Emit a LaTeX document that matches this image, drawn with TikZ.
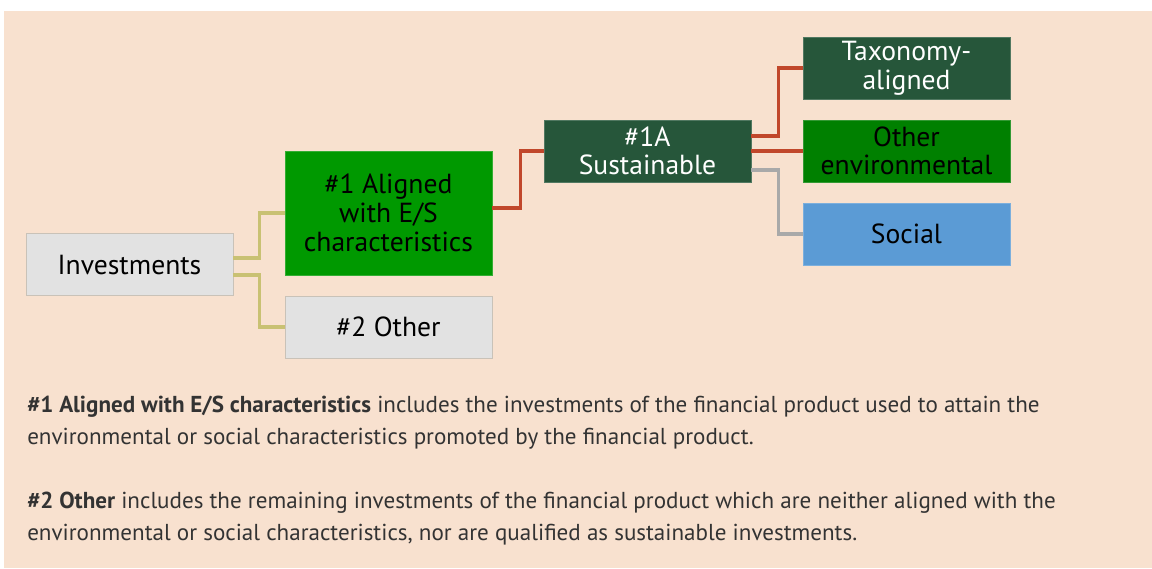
\documentclass[tikz,border=0pt]{standalone}
\usepackage{fontspec}
\setmainfont{PT Sans}
\usetikzlibrary{positioning}
\definecolor{panel}{HTML}{F8E1CF}
\definecolor{greyfill}{HTML}{E2E2E2}
\definecolor{greyedge}{HTML}{C9C2B8}
\definecolor{brightgreen}{HTML}{009900}
\definecolor{darkgreen}{HTML}{26563A}
\definecolor{envgreen}{HTML}{008000}
\definecolor{socblue}{HTML}{5B9BD5}
\definecolor{redlink}{HTML}{C1472B}
\definecolor{olivelink}{HTML}{C9C173}
\definecolor{greylink}{HTML}{A9A9A9}
\definecolor{legendtext}{HTML}{333333}

\begin{document}
\begin{tikzpicture}[x=0.75pt,y=-0.75pt,
		box/.style={minimum width=155.25pt, minimum height=46.5pt, inner sep=0pt,
			align=center, line width=0.6pt, font=\fontsize{20.7}{21.5}\selectfont},
		greybox/.style={box, fill=greyfill, draw=greyedge},
		greenbox/.style={box, fill=brightgreen, draw=brightgreen!80!white},
		darkbox/.style={box, fill=darkgreen, draw=darkgreen!80!white, text=white},
		envbox/.style={box, fill=envgreen, draw=envgreen!80!white},
		socbox/.style={box, fill=socblue, draw=socblue!80!white},
		link/.style={line width=2.6pt},
		legend/.style={anchor=base west, inner sep=0pt, text=legendtext, font=\fontsize{17.3}{24}\selectfont}]
				% Panel
				\useasboundingbox (0,0) rectangle (1152,568);
				\fill[panel] (4,11) rectangle (1152,568);
				
				% Boxes
				\node[greybox] (inv) at (129.5,264.5) {Investments};
				\node[greenbox, minimum height=93pt] (al) at (388.5,213) {\#1 Aligned\\with E/S\\characteristics};
				\node[greybox] (oth) at (388.5,327) {\#2 Other};
				\node[darkbox] (sus) at (647.5,151) {\#1A\\Sustainable};
				\node[darkbox] (tax) at (906.5,68) {Taxonomy-\\aligned};
				\node[envbox] (env) at (906.5,151) {Other\\environmental};
				\node[socbox] (soc) at (906.5,234) {Social};
				
				% Connectors
				\draw[link, olivelink] ([yshift=4.9pt]inv.east) -- ++(26,0) |- (al.west);
				\draw[link, olivelink] ([yshift=-7.9pt]inv.east) -- ++(26,0) |- (oth.west);
				\draw[link, redlink] ([yshift=3.75pt]al.east) -- ++(28,0) |- (sus.west);
				\draw[link, redlink] ([yshift=11.25pt]sus.east) -- ++(27,0) |- (tax.west);
				\draw[link, redlink] (sus.east) -- (env.west);
				\draw[link, greylink] ([yshift=-14.25pt]sus.east) -- ++(27,0) |- (soc.west);
				
				% Legend
				\node[legend] (l1) at (27,412.5) {\textbf{\#1 Aligned with E/S characteristics} includes the investments of the financial product used to attain the};
				\node[legend] (l2) at (27,444.5) {environmental or social characteristics promoted by the financial product.};
				\node[legend] (l3) at (27,508.5) {\textbf{\#2 Other} includes the remaining investments of the financial product which are neither aligned with the};
				\node[legend] (l4) at (27,540.5) {environmental or social characteristics, nor are qualified as sustainable investments.};
			\end{tikzpicture}
\end{document}
